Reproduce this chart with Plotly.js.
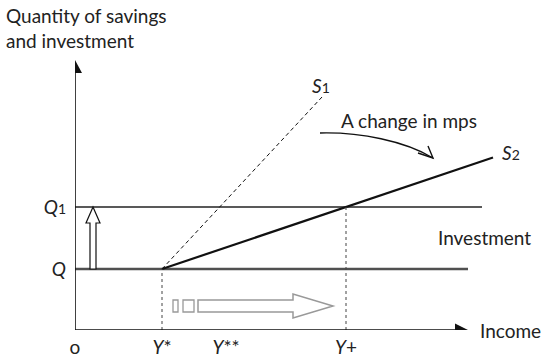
<!DOCTYPE html>
<html>
<head>
<meta charset="utf-8">
<script src="https://cdn.plot.ly/plotly-3.0.1.min.js"></script>
<style>html,body{margin:0;padding:0;background:#fff;}#chart{width:544px;height:360px;}</style>
</head>
<body>
<div id="chart"></div>
<script>
// ---- data (conceptual units) ----
const incomeTickVals = [0, 8.7, 15.1, 27.1];
const incomeTickText = ['o', '<i>Y</i>*', '<i>Y</i>**', '<i>Y</i>+'];
const qtyTickVals = [6.1, 12.3];
const qtyTickText = ['<i>Q</i>', '<i>Q</i><span style="font-size:14px">1</span>'];
const yStar = 8.7;
const yPlus = 27.1;
const qLevel = 6.1;
const q1Level = 12.3;
const s1X = [8.7, 24.7];
const s1Y = [6.1, 23.3];
const s2X = [8.7, 41.8];
const s2Y = [6.1, 17.25];
const investQEnd = 39.3;
const investQ1End = 40.7;
const xAxisEnd = 39.3;
const yAxisEnd = 27.0;

const FONT = 'Lato, "DejaVu Sans", sans-serif';

const traces = [
  {x: [0, investQEnd], y: [qLevel, qLevel], mode: 'lines', line: {color: '#505050', width: 2.6}, hoverinfo: 'skip'},
  {x: [0, investQ1End], y: [q1Level, q1Level], mode: 'lines', line: {color: '#222222', width: 1.5}, hoverinfo: 'skip'},
  {x: s1X, y: s1Y, mode: 'lines', line: {color: '#111111', width: 1, dash: '4px,3px'}, hoverinfo: 'skip'},
  {x: s2X, y: s2Y, mode: 'lines', line: {color: '#111111', width: 2.2}, hoverinfo: 'skip'},
  {x: [yStar, yStar], y: [0, qLevel], mode: 'lines', line: {color: '#444444', width: 1, dash: 'dot'}, hoverinfo: 'skip'},
  {x: [yPlus, yPlus], y: [0, q1Level], mode: 'lines', line: {color: '#444444', width: 1, dash: 'dot'}, hoverinfo: 'skip'}
];

function P(pts) { return 'M' + pts.map(p => p[0] + ',' + p[1]).join(' L') + ' Z'; }

// vertical hollow arrow from Q to Q1
const vx = 1.8;
const vArrow = P([[vx - 0.3, qLevel], [vx - 0.3, q1Level - 1.6], [vx - 0.7, q1Level - 1.6], [vx, q1Level],
  [vx + 0.7, q1Level - 1.6], [vx + 0.3, q1Level - 1.6], [vx + 0.3, qLevel]]);
// horizontal hollow arrow (income movement)
const hy = 2.4;
const hArrow = P([[12.3, hy - 0.6], [21.8, hy - 0.6], [21.8, hy - 1.2], [25.8, hy], [21.8, hy + 1.2], [21.8, hy + 0.6], [12.3, hy + 0.6]]);
const hRect1 = P([[9.8, hy - 0.6], [10.3, hy - 0.6], [10.3, hy + 0.6], [9.8, hy + 0.6]]);
const hRect2 = P([[10.8, hy - 0.6], [11.9, hy - 0.6], [11.9, hy + 0.6], [10.8, hy + 0.6]]);

const shapes = [
  // axes
  {type: 'line', xref: 'x', yref: 'y', x0: 0, y0: 0, x1: xAxisEnd - 1.2, y1: 0, line: {color: '#111', width: 1.6}},
  {type: 'line', xref: 'x', yref: 'y', x0: 0, y0: 0, x1: 0, y1: yAxisEnd - 1.2, line: {color: '#111', width: 1.6}},
  {type: 'path', xref: 'x', yref: 'y', path: P([[xAxisEnd - 1.3, 0.65], [xAxisEnd, 0], [xAxisEnd - 1.3, -0.65]]), fillcolor: '#111', line: {width: 0}},
  {type: 'path', xref: 'x', yref: 'y', path: P([[-0.7, yAxisEnd - 1.3], [0, yAxisEnd], [0.7, yAxisEnd - 1.3]]), fillcolor: '#111', line: {width: 0}},
  {type: 'path', xref: 'x', yref: 'y', path: vArrow, fillcolor: '#fff', line: {color: '#111', width: 1.2}},
  {type: 'path', xref: 'x', yref: 'y', path: hArrow, fillcolor: 'rgba(0,0,0,0)', line: {color: '#999', width: 1.5}},
  {type: 'path', xref: 'x', yref: 'y', path: hRect1, fillcolor: 'rgba(0,0,0,0)', line: {color: '#999', width: 1.3}},
  {type: 'path', xref: 'x', yref: 'y', path: hRect2, fillcolor: 'rgba(0,0,0,0)', line: {color: '#999', width: 1.3}},
  // curved arrow "change in mps"
  {type: 'path', xref: 'x', yref: 'y', path: 'M24.5,19.7 C28.5,19.8 33.0,18.9 35.8,17.2', line: {color: '#111', width: 1.4}},
  {type: 'path', xref: 'x', yref: 'y', path: 'M35.3,18.4 L35.8,17.2 L34.3,17.7', line: {color: '#111', width: 1.4}}
];

const tf = {family: FONT, size: 19, color: '#222'};
const sub = '<span style="font-size:14px">';
const annotations = [
  {x: 0, y: 1, xref: 'paper', yref: 'paper', xshift: -71, yshift: 48, xanchor: 'left', yanchor: 'top', align: 'left', showarrow: false,
   text: 'Quantity of savings<br>and investment', font: tf},
  {x: 24.6, y: 24.5, xref: 'x', yref: 'y', showarrow: false, text: '<i>S</i>' + sub + '1</span>', font: tf},
  {x: 43.6, y: 17.8, xref: 'x', yref: 'y', showarrow: false, text: '<i>S</i>' + sub + '2</span>', font: tf},
  {x: 33.4, y: 21.0, xref: 'x', yref: 'y', showarrow: false, text: 'A change in mps', font: tf},
  {x: 40.9, y: 9.3, xref: 'x', yref: 'y', showarrow: false, text: 'Investment', font: tf},
  {x: 40.3, y: 0, xref: 'x', yref: 'y', xanchor: 'left', showarrow: false, text: 'Income', font: tf}
];

const layout = {
  width: 544, height: 360,
  margin: {l: 75, r: 9, t: 50, b: 30, pad: 0},
  paper_bgcolor: '#fff', plot_bgcolor: '#fff',
  showlegend: false,
  xaxis: {range: [0, 46], showgrid: false, zeroline: false, showline: false, ticks: '',
          tickvals: incomeTickVals, ticktext: incomeTickText, tickfont: tf, ticklabelstandoff: 4, fixedrange: true},
  yaxis: {range: [0, 28], showgrid: false, zeroline: false, showline: false, ticks: '',
          tickvals: qtyTickVals, ticktext: qtyTickText, tickfont: tf, ticklabelstandoff: 8, fixedrange: true},
  shapes: shapes,
  annotations: annotations
};

Plotly.newPlot('chart', traces, layout, {displayModeBar: false, staticPlot: true});
</script>
</body>
</html>
